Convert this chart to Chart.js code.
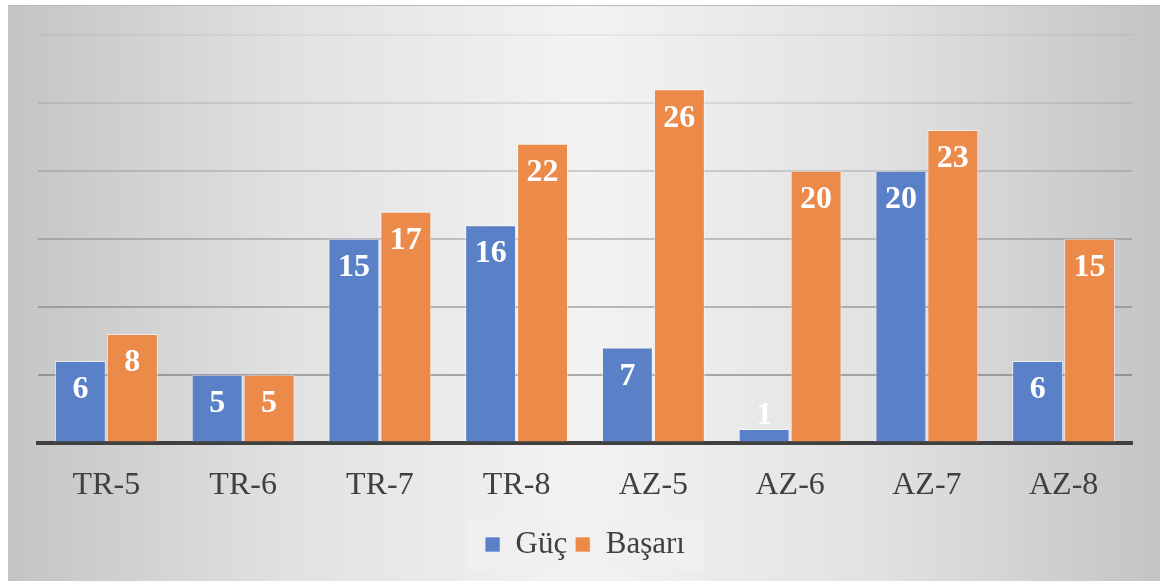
<!DOCTYPE html>
<html>
<head>
<meta charset="utf-8">
<style>
  body { margin: 0; background: #fff; }
  #frame {
    position: absolute; left: 8px; top: 5px; width: 1152px; height: 575px;
    background: linear-gradient(to right, #c4c4c4 0%, #e2e2e2 25%, #f3f3f3 50%, #e2e2e2 75%, #c4c4c4 100%);
    border-top: 1px solid #b8b8b8;
  }
</style>
</head>
<body>
<div id="frame"><canvas id="barChart" width="1142" height="575"></canvas></div>
<script src="https://cdn.jsdelivr.net/npm/chart.js"></script>
<script>
    const categories = ['TR-5', 'TR-6', 'TR-7', 'TR-8', 'AZ-5', 'AZ-6', 'AZ-7', 'AZ-8'];
    const gucValues = [6, 5, 15, 16, 7, 1, 20, 6];
    const basariValues = [8, 5, 17, 22, 26, 20, 23, 15];

    // white bold numbers inside the bar top, above it when the bar is too short
    const valueLabels = {
        id: 'valueLabels',
        afterDatasetsDraw(chart) {
            const c = chart.ctx;
            c.save();
            c.font = 'bold 32px "Liberation Serif"';
            c.fillStyle = '#ffffff';
            c.textAlign = 'center';
            c.textBaseline = 'middle';
            chart.data.datasets.forEach((ds, i) => {
                chart.getDatasetMeta(i).data.forEach((bar, j) => {
                    const v = ds.data[j];
                    const y = (bar.base - bar.y) > 40 ? bar.y + 29 : bar.y - 13;
                    c.fillText(String(v), bar.x, y);
                });
            });
            c.restore();
        }
    };

    const legendBox = {
        id: 'legendBox',
        beforeDraw(chart) {
            const l = chart.legend;
            const hb = l.legendHitBoxes[0];
            const cy = hb.top + hb.height / 2;
            const c = chart.ctx;
            c.save();
            c.fillStyle = 'rgba(240,240,240,0.8)';
            const w = 239, h = 51;
            const cx = (chart.chartArea.left + chart.chartArea.right) / 2;
            c.fillRect(cx - w / 2, cy - h / 2, w, h);
            c.restore();
        }
    };

    new Chart(document.getElementById('barChart'), {
        type: 'bar',
        data: {
            labels: categories,
            datasets: [
                {
                    label: 'Güç',
                    data: gucValues,
                    backgroundColor: '#5a80c8',
                    borderColor: 'rgba(255,255,255,0.55)',
                    borderWidth: 1
                },
                {
                    label: 'Başarı',
                    data: basariValues,
                    backgroundColor: '#ec8a4a',
                    borderColor: 'rgba(255,255,255,0.55)',
                    borderWidth: 1
                }
            ]
        },
        options: {
            responsive: false,
            animation: false,
            layout: { padding: { left: 30, right: 18, top: 29, bottom: 11 } },
            datasets: { bar: { categoryPercentage: 0.76, barPercentage: 0.98 } },
            plugins: {
                tooltip: { enabled: false },
                legend: {
                    position: 'bottom',
                    labels: {
                        font: { family: 'Liberation Serif', size: 31 },
                        color: '#404040',
                        boxWidth: 15,
                        boxHeight: 15,
                        padding: 8
                    }
                }
            },
            scales: {
                x: {
                    grid: { display: false },
                    border: { display: true, color: '#404040', width: 4 },
                    ticks: {
                        font: { family: 'Liberation Serif', size: 32 },
                        color: '#404040',
                        padding: 16
                    }
                },
                y: {
                    min: 0,
                    max: 30,
                    ticks: { display: false, stepSize: 5 },
                    border: { display: false },
                    grid: {
                        drawTicks: false,
                        lineWidth: 2,
                        color: ctx => ctx.tick.value === 0 ? 'rgba(0,0,0,0)' :
                            'rgba(90,90,90,' + (0.55 - ctx.tick.value * 0.016) + ')'
                    }
                }
            }
        },
        plugins: [legendBox, valueLabels]
    });
</script>
</body>
</html>
